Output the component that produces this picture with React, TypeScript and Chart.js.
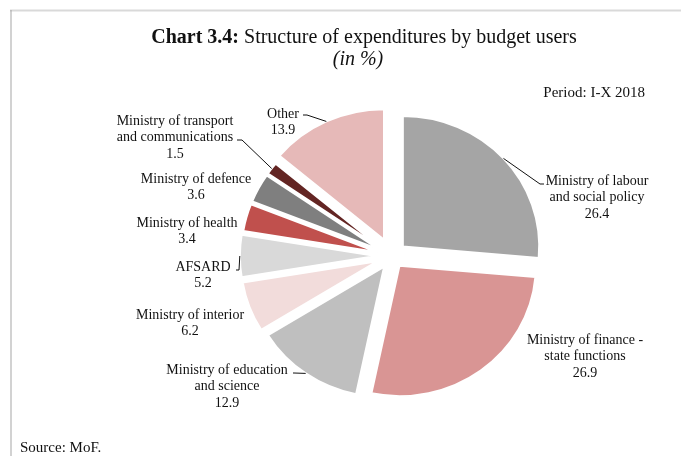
import React, { useEffect, useRef } from "react";
import { Chart, registerables, ArcElement } from "chart.js";

Chart.register(...registerables);

// ---- data ----
const categories: string[][] = [
  ["Ministry of labour", "and social policy"],
  ["Ministry of finance -", "state functions"],
  ["Ministry of education", "and science"],
  ["Ministry of interior"],
  ["AFSARD"],
  ["Ministry of health"],
  ["Ministry of defence"],
  ["Ministry of transport", "and communications"],
  ["Other"],
];
const values: number[] = [26.4, 26.9, 12.9, 6.2, 5.2, 3.4, 3.6, 1.5, 13.9];

const titleBold = "Chart 3.4:";
const titleRest = " Structure of expenditures by budget users";
const subtitle = "(in %)";
const periodText = "Period: I-X 2018";
const sourceText = "Source: MoF.";

// ---- styles ----
const colors = [
  "#a5a5a5",
  "#d99594",
  "#bfbfbf",
  "#f2dcdb",
  "#d9d9d9",
  "#c0504d",
  "#7f7f7f",
  "#632523",
  "#e6b9b8",
];
const explode = [14, 12, 13, 15, 15, 14, 14, 14, 18];
const FONT = '"Liberation Serif", serif';
const W = 681;
const H = 456;
const SX = 1.046; // horizontal stretch of the pie
const LINE_H = 16.5;

// label centres relative to pie centre (first line)
const labelPos: [number, number][] = [
  [205, -75],
  [193, 84],
  [-165, 114],
  [-202, 59],
  [-189, 11],
  [-205, -33],
  [-196, -77],
  [-217, -135],
  [-109, -142],
];
// leader line elbows relative to pie centre (then to slice edge)
const leaders: ([number, number, number, number] | null)[] = [
  [152, -72, 148, -72],
  null,
  [-99, 117, -98, 117],
  null,
  [-156, 14, -153, 14],
  null,
  null,
  [-155, -116, -150, -116],
  [-89, -141, -85, -141],
];

const explodePlugin = {
  id: "explodeStretch",
  beforeDatasetsDraw(chart: any) {
    const meta = chart.getDatasetMeta(0);
    meta.data.forEach((el: any, i: number) => {
      if (!el.__patched) {
        el.draw = function (ctx: CanvasRenderingContext2D) {
          const a = (this.startAngle + this.endAngle) / 2;
          const d = explode[i];
          ctx.save();
          ctx.translate(Math.cos(a) * d, Math.sin(a) * d);
          ArcElement.prototype.draw.call(this, ctx);
          ctx.restore();
        };
        el.__patched = true;
      }
    });
    const { left, right, top, bottom } = chart.chartArea;
    const cx = (left + right) / 2;
    const cy = (top + bottom) / 2;
    const ctx = chart.ctx;
    ctx.save();
    ctx.translate(cx, cy);
    ctx.scale(SX, 1);
    ctx.translate(-cx, -cy);
  },
  afterDatasetsDraw(chart: any) {
    chart.ctx.restore();
  },
};

const framePlugin = {
  id: "frame",
  beforeDraw(chart: any) {
    const ctx = chart.ctx;
    ctx.save();
    ctx.fillStyle = "#d9d9d9";
    ctx.fillRect(10, 9.5, W - 10, 2);
    ctx.fillStyle = "#a6a6a6";
    ctx.fillRect(10.5, 10, 1, H - 10);
    ctx.restore();
  },
};

const textPlugin = {
  id: "texts",
  afterDraw(chart: any) {
    const ctx: CanvasRenderingContext2D = chart.ctx;
    const { left, right, top, bottom } = chart.chartArea;
    const cx = (left + right) / 2;
    const cy = (top + bottom) / 2;
    const meta = chart.getDatasetMeta(0);
    ctx.save();
    ctx.fillStyle = "#111";
    ctx.textBaseline = "middle";

    // title
    ctx.font = `bold 20px ${FONT}`;
    const wb = ctx.measureText(titleBold).width;
    ctx.font = `20px ${FONT}`;
    const wr = ctx.measureText(titleRest).width;
    const tx = 364 - (wb + wr) / 2;
    ctx.textAlign = "left";
    ctx.font = `bold 20px ${FONT}`;
    ctx.fillText(titleBold, tx, 38);
    ctx.font = `20px ${FONT}`;
    ctx.fillText(titleRest, tx + wb, 38);
    ctx.textAlign = "center";
    ctx.font = `italic 20px ${FONT}`;
    ctx.fillText(subtitle, 358, 60);

    ctx.font = `15px ${FONT}`;
    ctx.textAlign = "right";
    ctx.fillText(periodText, 645, 93);
    ctx.textAlign = "left";
    ctx.fillText(sourceText, 20, 448);

    // leader lines
    ctx.strokeStyle = "#111";
    ctx.lineWidth = 1;
    meta.data.forEach((el: any, i: number) => {
      const ld = leaders[i];
      if (!ld) return;
      const a = (el.startAngle + el.endAngle) / 2;
      const rr = explode[i] + el.outerRadius;
      const px = cx + (el.x + Math.cos(a) * rr - cx) * SX;
      const py = el.y + Math.sin(a) * rr;
      ctx.beginPath();
      ctx.moveTo(cx + ld[0], cy + ld[1]);
      ctx.lineTo(cx + ld[2], cy + ld[3]);
      ctx.lineTo(px, py);
      ctx.stroke();
    });

    // labels
    ctx.textAlign = "center";
    ctx.font = `14px ${FONT}`;
    categories.forEach((lines, i) => {
      const all = [...lines, values[i].toFixed(1)];
      const lx = cx + labelPos[i][0];
      const ly = cy + labelPos[i][1];
      all.forEach((t, k) => ctx.fillText(t, lx, ly + k * LINE_H));
    });
    ctx.restore();
  },
};

export default function App() {
  const ref = useRef<HTMLCanvasElement | null>(null);
  useEffect(() => {
    if (!ref.current) return;
    const chart = new Chart(ref.current, {
      type: "pie",
      data: {
        labels: categories,
        datasets: [
          {
            data: values,
            backgroundColor: colors,
            borderColor: "#ffffff",
            borderWidth: 2,
            hoverOffset: 0,
            clip: false as any,
          } as any,
        ],
      },
      options: {
        responsive: false,
        animation: false,
        radius: 130.5,
        layout: { padding: { left: 232, right: 129, top: 96, bottom: 40 } },
        plugins: {
          legend: { display: false },
          tooltip: { enabled: false },
          title: { display: false },
        },
        events: [],
      } as any,
      plugins: [framePlugin, explodePlugin, textPlugin],
    });
    return () => chart.destroy();
  }, []);
  return (
    <div style={{ position: "absolute", left: 0, top: 0, width: W, height: H, background: "#fff" }}>
      <canvas ref={ref} width={W} height={H} style={{ width: W, height: H, display: "block" }} />
    </div>
  );
}
